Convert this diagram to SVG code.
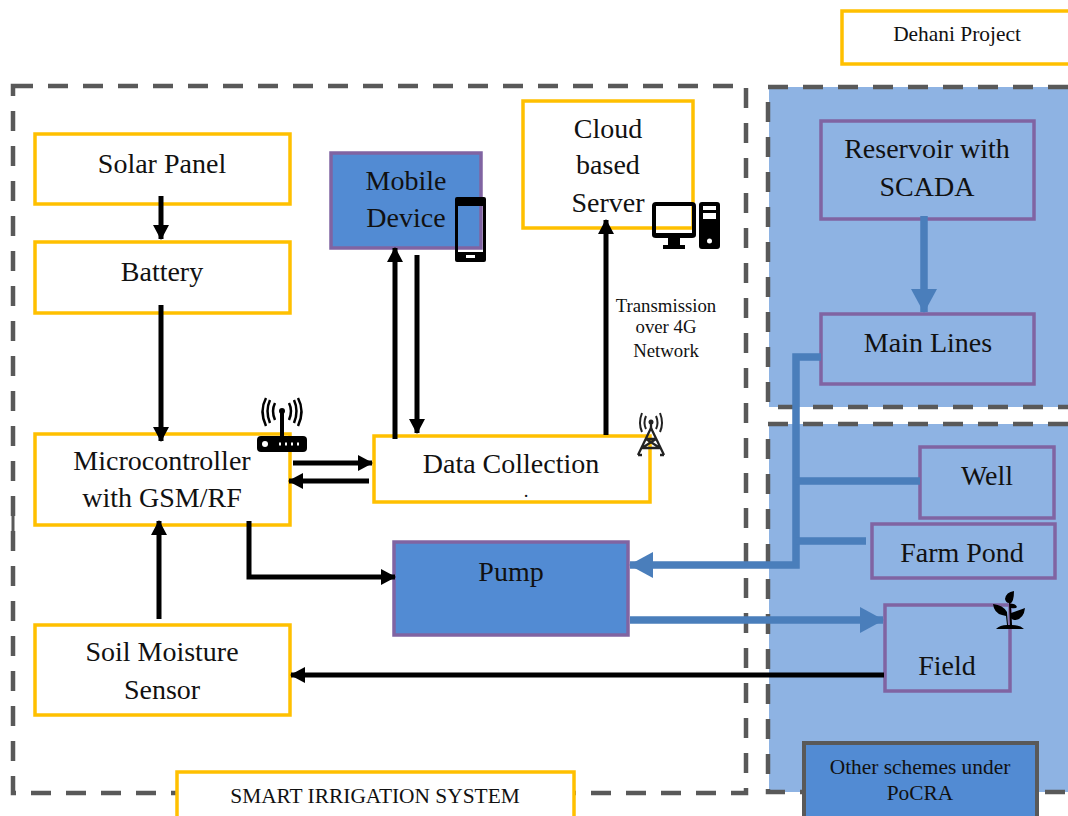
<svg xmlns="http://www.w3.org/2000/svg" width="1068" height="816" viewBox="0 0 1068 816">
<style>
text{font-family:"Liberation Serif","Times New Roman",serif;fill:#111;text-anchor:middle}
.t28{font-size:28px}.t22{font-size:21.400px}.t18{font-size:18.800px}
.y{fill:#fff;stroke:#ffc000;stroke-width:3.500}
.p{fill:none;stroke:#8064a2;stroke-width:3.500}
.pf{fill:#528bd3;stroke:#8064a2;stroke-width:3.500}
.d{fill:none;stroke:#595959;stroke-width:4.500;stroke-dasharray:20 15}
.k{fill:none;stroke:#000;stroke-width:5}
.b{fill:none;stroke:#4a7ebb;stroke-width:7.500}
.ic{fill:#000}
</style>
<defs>
<marker id="ak" markerUnits="userSpaceOnUse" markerWidth="16" markerHeight="16" refX="14" refY="8" orient="auto"><path d="M0 0L15 8L0 16Z" fill="#000"/></marker>
<marker id="ab" markerUnits="userSpaceOnUse" markerWidth="24" markerHeight="26" refX="23" refY="13" orient="auto"><path d="M0 0L24 13L0 26Z" fill="#4a7ebb"/></marker>
</defs>
<g id="region-top"><rect x="769" y="87" width="299" height="320" fill="#8eb3e3"/><path class="d" d="M1068 87H768V407H1068"/></g>
<g id="region-bottom"><rect x="769" y="424" width="299" height="368" fill="#8eb3e3"/><path class="d" d="M1068 424H768V792H1068"/></g>
<g id="smart-irrigation-boundary"><rect class="d" x="13" y="86" width="733" height="707"/><path d="M13 514V547" stroke="#595959" stroke-width="3" fill="none"/></g>

<g id="dehani-project"><rect class="y" x="842" y="11" width="230" height="53"/><text class="t22" x="957" y="41">Dehani Project</text></g>
<g id="solar-panel"><rect class="y" x="35" y="134" width="255" height="70"/><text class="t28" x="162" y="173">Solar Panel</text></g>
<g id="battery"><rect class="y" x="35" y="242" width="255" height="71"/><text class="t28" x="162" y="281">Battery</text></g>
<g id="microcontroller"><rect class="y" x="35" y="434" width="255" height="91"/><text class="t28" x="162" y="470">Microcontroller</text><text class="t28" x="162" y="507">with GSM/RF</text></g>
<g id="soil-moisture-sensor"><rect class="y" x="35" y="625" width="255" height="90"/><text class="t28" x="162" y="661">Soil Moisture</text><text class="t28" x="162" y="699">Sensor</text></g>
<g id="mobile-device"><rect class="pf" x="331" y="153" width="150" height="95"/><text class="t28" x="406" y="190">Mobile</text><text class="t28" x="406" y="227">Device</text></g>
<g id="cloud-server"><rect class="y" x="523" y="101" width="170" height="127"/><text class="t28" x="608" y="138">Cloud</text><text class="t28" x="608" y="174">based</text><text class="t28" x="608" y="212">Server</text></g>
<g id="data-collection"><rect class="y" x="374" y="436" width="276" height="66"/><text class="t28" x="511" y="473">Data Collection</text><text class="t18" x="526" y="497">.</text></g>
<g id="pump"><rect class="pf" x="394" y="542" width="234" height="93"/><text class="t28" x="511" y="581">Pump</text></g>
<g id="reservoir"><rect class="p" x="821" y="121" width="213" height="98"/><text class="t28" x="927" y="158">Reservoir with</text><text class="t28" x="927" y="196">SCADA</text></g>
<g id="main-lines"><rect class="p" x="821" y="314" width="213" height="70"/><text class="t28" x="928" y="352">Main Lines</text></g>
<g id="well"><rect class="p" x="920" y="447" width="134" height="71"/><text class="t28" x="987" y="485">Well</text></g>
<g id="farm-pond"><rect class="p" x="872" y="524" width="183" height="54"/><text class="t28" x="962" y="562">Farm Pond</text></g>
<g id="field"><rect class="p" x="885" y="605" width="125" height="86"/><text class="t28" x="947" y="675">Field</text></g>

<g id="connectors">
<path class="k" d="M161 196V239" marker-end="url(#ak)"/>
<path class="k" d="M161 305V441" marker-end="url(#ak)"/>
<path class="k" d="M159 619V521" marker-end="url(#ak)"/>
<path class="k" d="M293 463H372" marker-end="url(#ak)"/>
<path class="k" d="M369 481H289" marker-end="url(#ak)"/>
<path class="k" d="M395 439V248" marker-end="url(#ak)"/>
<path class="k" d="M417 255V433" marker-end="url(#ak)"/>
<path class="k" d="M606 435V220" marker-end="url(#ak)"/>
<path class="k" d="M249 521V577H395" marker-end="url(#ak)"/>
<path class="k" d="M884 675H291" marker-end="url(#ak)"/>
<path class="b" d="M924 216V312" stroke-width="8" marker-end="url(#ab)"/>
<path class="b" d="M821 357H796V565H630" marker-end="url(#ab)"/>
<path class="b" d="M796 481H920M796 541H866"/>
<path class="b" d="M630 620H883" marker-end="url(#ab)"/>
</g>

<g id="phone-icon"><path class="ic" fill-rule="evenodd" d="M457 197H484Q486 197 486 199V260Q486 262 484 262H457Q455 262 455 260V199Q455 197 457 197ZM458 206V252H483V206ZM466 255V258H475V255Z"/></g>
<g id="computer-icon"><path class="ic" fill-rule="evenodd" d="M656 202H692Q696 202 696 206V235Q696 238 692 238H680V245H685V249H663V245H668V238H656Q652 238 652 235V206Q652 202 656 202ZM656 206V233H692V206Z"/>
<path class="ic" fill-rule="evenodd" d="M702 202H717Q720 202 720 205V246Q720 249 717 249H702Q699 249 699 246V205Q699 202 702 202ZM703 206V210H716V206ZM703 213V219H716V213ZM707 241A2.500 2.500 0 1 0 712 241A2.500 2.500 0 1 0 707 241Z"/></g>
<g id="router-icon"><path class="ic" d="M280 412H284V436H280Z"/><circle class="ic" cx="282" cy="411" r="3"/>
<path d="M275 403Q271 411 275 420M289 403Q293 411 289 420M270 400Q265 411 270 423M294 400Q299 411 294 423M266 398Q259 411 266 426M298 398Q305 411 298 426" fill="none" stroke="#000" stroke-width="2.500"/>
<rect class="ic" x="257" y="436" width="50" height="16" rx="4"/><circle cx="265" cy="444" r="3" fill="#fff"/><path d="M279 444h2M285 444h2M291 444h2M297 444h2" stroke="#fff" stroke-width="3"/></g>
<g id="tower-icon"><path d="M651 428L638 455M651 428L664 455M646 439H656M642 448H660M646 439L660 448M656 439L642 448M638 455H642M660 455H664" fill="none" stroke="#222" stroke-width="2.300"/><path d="M651 423V431" stroke="#222" stroke-width="2.300"/><circle cx="651" cy="422" r="2.500" fill="#222"/>
<path d="M646 416Q643 423 646 429M656 416Q659 423 656 429M642 413Q638 423 642 432M660 413Q664 423 660 432" fill="none" stroke="#222" stroke-width="2"/></g>
<g id="plant-icon"><path class="ic" d="M996 629H1024Q1020 625 1012 625L1011 608Q1016 609 1017 607Q1015 603 1010 604Q1014 602 1014 591Q1006 592 1005 599Q1006 603 1009 603L1010 625H1008L1007 612Q1003 605 993 604Q994 613 1002 615L1006 616L1007 625Q1000 625 996 629Z"/>
<path class="ic" d="M1011 613Q1020 610 1025 608Q1024 618 1016 620Q1012 620 1011 618Z"/></g>
<g id="transmission-label"><text class="t18" x="666" y="312">Transmission</text><text class="t18" x="666" y="333">over 4G</text><text class="t18" x="666" y="357">Network</text></g>
<g id="other-schemes"><rect x="804" y="743" width="233" height="80" fill="#528bd3" stroke="#595959" stroke-width="4"/><text class="t22" x="920" y="774">Other schemes under</text><text class="t22" x="920" y="800">PoCRA</text></g>
<g id="smart-irrigation-label"><rect class="y" x="177" y="772" width="397" height="60"/><text class="t22" x="375" y="803">SMART IRRIGATION SYSTEM</text></g>
</svg>
